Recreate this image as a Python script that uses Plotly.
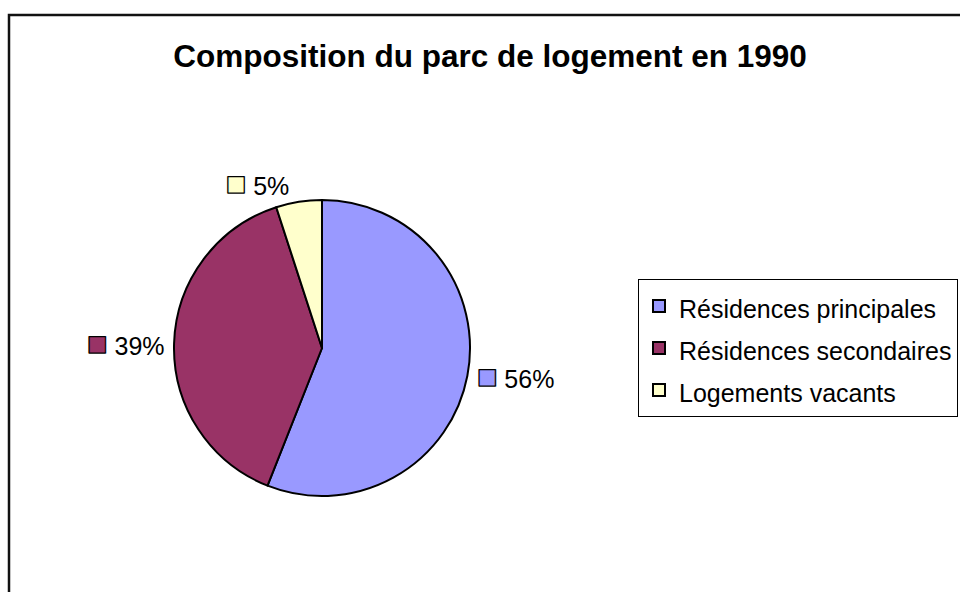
import plotly.graph_objects as go

title = "Composition du parc de logement en 1990"
categories = ["Résidences principales", "Résidences secondaires", "Logements vacants"]
values = [56, 39, 5]
colors = ["#9999FF", "#993366", "#FFFFCC"]

texts = [
    f"<span style='font-size:34px;fill:{c};stroke:#000;stroke-width:1.3px'>■</span> {v}%"
    for c, v in zip(colors, values)
]
legend_labels = [f"<span style='font-size:25px'>{name}</span>" for name in categories]

fig = go.Figure(
    go.Pie(
        labels=legend_labels,
        values=values,
        text=texts,
        textinfo="text",
        textposition="outside",
        sort=False,
        direction="clockwise",
        rotation=0,
        marker=dict(colors=colors, line=dict(color="#000000", width=2)),
        outsidetextfont=dict(family="Liberation Sans, Arial, sans-serif", size=25, color="#000"),
        domain=dict(x=[174 / 960, 470 / 960], y=[1 - 496 / 592, 1 - 200 / 592]),
        hoverinfo="label+percent",
        showlegend=True,
    )
)

fig.update_layout(
    width=960,
    height=592,
    margin=dict(l=0, r=0, t=0, b=0),
    paper_bgcolor="#FFFFFF",
    plot_bgcolor="#FFFFFF",
    font=dict(family="Liberation Sans, Arial, sans-serif", color="#000"),
    title=dict(
        text=f"<b>{title}</b>",
        x=490 / 960,
        xanchor="center",
        xref="paper",
        y=1 - 56 / 592,
        yanchor="middle",
        yref="container",
        font=dict(family="Liberation Sans, Arial, sans-serif", size=31.5, color="#000"),
    ),
    legend=dict(
        x=638 / 960,
        xanchor="left",
        y=1 - 279 / 592,
        yanchor="top",
        bgcolor="#FFFFFF",
        bordercolor="#000000",
        borderwidth=1,
        font=dict(family="Liberation Sans, Arial, sans-serif", size=30, color="#000"),
    ),
    shapes=[
        dict(
            type="rect",
            xref="paper",
            yref="paper",
            x0=9 / 960,
            x1=1.05,
            y0=-0.05,
            y1=1 - 15 / 592,
            line=dict(color="#111111", width=2.5),
            fillcolor="rgba(0,0,0,0)",
            layer="below",
        )
    ],
)

fig.write_html(
    "out.html",
    config={"displayModeBar": False},
    post_script="document.body.style.margin='0';document.body.style.overflow='hidden';",
)
